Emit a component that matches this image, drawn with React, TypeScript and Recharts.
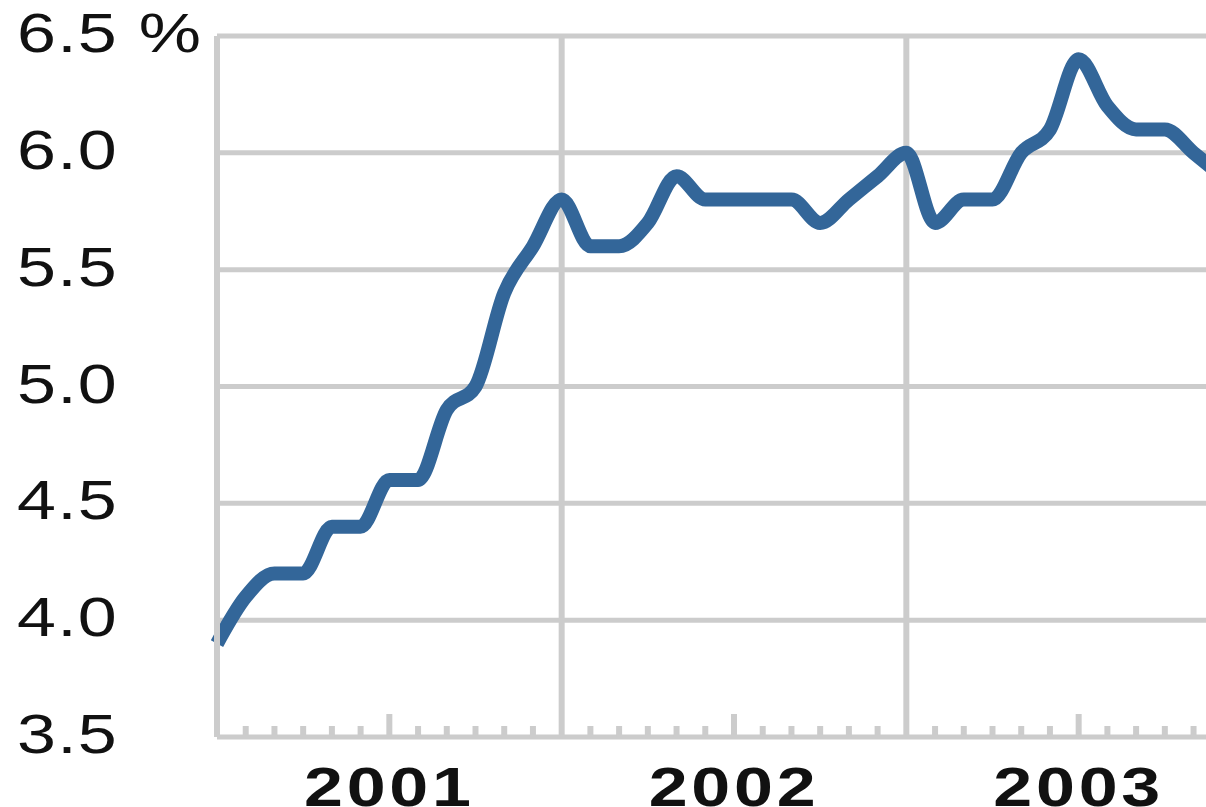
import React from 'react';
import { LineChart, Line, XAxis, YAxis, CartesianGrid, ReferenceLine } from 'recharts';

// month index counted from January 2001
const MONTHS = [0, 1, 2, 3, 4, 5, 6, 7, 8, 9, 10, 11, 12, 13, 14, 15, 16, 17, 18, 19, 20, 21, 22, 23, 24, 25, 26, 27, 28, 29, 30, 31, 32, 33, 34, 35];
const RATES = [
  3.9, 4.1, 4.2, 4.2, 4.4, 4.4, 4.6, 4.6, 4.9, 5.0, 5.4, 5.6,
  5.8, 5.6, 5.6, 5.7, 5.9, 5.8, 5.8, 5.8, 5.8, 5.7, 5.8, 5.9,
  6.0, 5.7, 5.8, 5.8, 6.0, 6.1, 6.4, 6.2, 6.1, 6.1, 6.0, 5.9,
];
const YEARS = ['2001', '2002', '2003'];
const Y_TICKS = [3.5, 4, 4.5, 5, 5.5, 6, 6.5];
const Y_LABELS = ['3.5', '4.0', '4.5', '5.0', '5.5', '6.0', '6.5 %'];
const MONTH_TICKS = [1, 2, 3, 4, 5, 6, 7, 8, 9, 10, 11, 13, 14, 15, 16, 17, 18, 19, 20, 21, 22, 23, 25, 26, 27, 28, 29, 30, 31, 32, 33, 34, 35];
const YEAR_LINES = [12, 24];

const data = MONTHS.map((m, i) => ({ month: m, rate: RATES[i] }));

const GRID = '#cccccc';
const FONT = '"Liberation Sans", Arial, sans-serif';

const YTick = (props: any) => {
  const { y, payload } = props;
  const idx = Y_TICKS.indexOf(payload.value);
  return (
    <g transform={`translate(17,${y + 16}) scale(1.25,1)`}>
      <text x={0} y={0} textAnchor="start" fontFamily={FONT} fontSize={56} fill="#111" letterSpacing={1}>
        {Y_LABELS[idx]}
      </text>
    </g>
  );
};

const XTick = (props: any) => {
  const { x, y, payload } = props;
  const v = payload.value;
  const isMid = v % 12 === 6;
  const h = isMid ? 23 : 11;
  return (
    <g>
      <line x1={x} x2={x} y1={y} y2={y - h} stroke={GRID} strokeWidth={6} />
      {isMid && (
        <g transform={`translate(${x},${y + 69}) scale(1.25,1)`}>
          <text x={0} y={0} textAnchor="middle" fontFamily={FONT} fontSize={56} fontWeight="bold" fill="#111" letterSpacing={3}>
            {YEARS[(v - 6) / 12]}
          </text>
        </g>
      )}
    </g>
  );
};

export default function App() {
  return (
    <div style={{ position: 'absolute', left: 0, top: 0, width: 1206, height: 807, overflow: 'hidden', background: '#fff' }}>
      <LineChart width={1300} height={840} data={data} margin={{ top: 36, right: 49, left: 0, bottom: 0 }}>
        <CartesianGrid vertical={false} stroke={GRID} strokeWidth={5} />
        <XAxis
          dataKey="month"
          type="number"
          domain={[0, 36]}
          ticks={MONTH_TICKS}
          interval={0}
          height={103}
          tickSize={0}
          tickMargin={0}
          tickLine={false}
          axisLine={{ stroke: GRID, strokeWidth: 4 }}
          tick={<XTick />}
        />
        <YAxis
          type="number"
          domain={[3.5, 6.5]}
          ticks={Y_TICKS}
          interval={0}
          width={217}
          tickLine={false}
          axisLine={{ stroke: GRID, strokeWidth: 6 }}
          tick={<YTick />}
        />
        {YEAR_LINES.map((m) => (
          <ReferenceLine key={m} x={m} stroke={GRID} strokeWidth={6} />
        ))}
        <Line
          type="monotone"
          dataKey="rate"
          stroke="#336699"
          strokeWidth={14}
          dot={false}
          activeDot={false}
          isAnimationActive={false}
        />
      </LineChart>
    </div>
  );
}
